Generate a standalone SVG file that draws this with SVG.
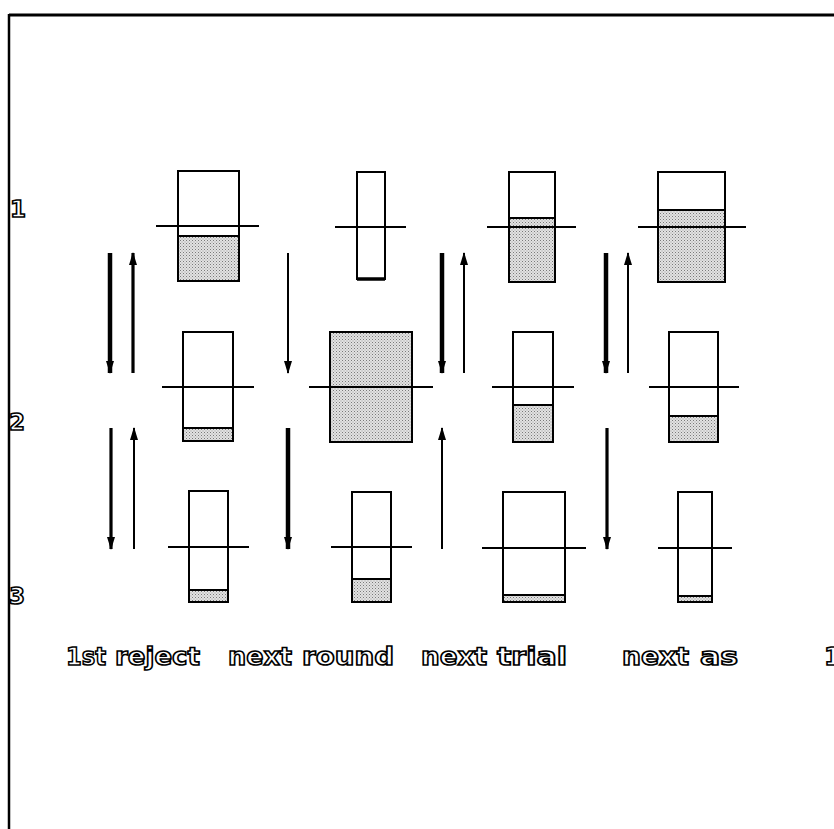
<svg xmlns="http://www.w3.org/2000/svg" width="834" height="829" viewBox="0 0 834 829">
<defs>
<pattern id="stip" width="3" height="3" patternUnits="userSpaceOnUse">
<rect width="3" height="3" fill="#e2e2e2"/>
<rect x="0" y="0" width="1" height="1" fill="#7a7a7a"/>
<rect x="1.5" y="1.5" width="1" height="1" fill="#9a9a9a"/>
</pattern>
<marker id="ah" viewBox="0 0 13 8" refX="12" refY="4" markerWidth="13" markerHeight="8" markerUnits="userSpaceOnUse" orient="auto">
<path d="M0,0 L13,4 L0,8 Z" fill="#000"/>
</marker>
</defs>
<style>
.box{fill:#fff;stroke:#000;stroke-width:2}
.fill{fill:url(#stip);stroke:#000;stroke-width:2}
.lvl{stroke:#000;stroke-width:2}
.thick{stroke:#000;stroke-width:4.5;fill:none}
.med{stroke:#000;stroke-width:3.2;fill:none}
.thin{stroke:#000;stroke-width:2;fill:none}
.lbl{font-family:"DejaVu Sans","Liberation Sans",sans-serif;font-weight:bold;fill:#fff;stroke:#000;stroke-width:1.6}
</style>
<rect width="834" height="829" fill="#fff"/>
<g id="frame">
<line x1="9" y1="15" x2="834" y2="15" stroke="#000" stroke-width="3"/>
<line x1="9" y1="14" x2="9" y2="829" stroke="#000" stroke-width="2.5"/>
</g>
<g id="row-labels" class="lbl" font-size="23">
<text x="10" y="217">1</text>
<text x="9" y="430">2</text>
<text x="9" y="604">3</text>
</g>
<g id="r1c1"><rect class="box" x="178" y="171" width="61" height="110"/><rect class="fill" x="178" y="236" width="61" height="45"/><line class="lvl" x1="156" y1="226" x2="259" y2="226"/></g>
<g id="r1c2"><rect class="box" x="357" y="172" width="28" height="107"/><line x1="357" y1="279" x2="385" y2="279" stroke="#000" stroke-width="3.5"/><line class="lvl" x1="335" y1="227" x2="406" y2="227"/></g>
<g id="r1c3"><rect class="box" x="509" y="172" width="46" height="110"/><rect class="fill" x="509" y="218" width="46" height="64"/><line class="lvl" x1="487" y1="227" x2="576" y2="227"/></g>
<g id="r1c4"><rect class="box" x="658" y="172" width="67" height="110"/><rect class="fill" x="658" y="210" width="67" height="72"/><line class="lvl" x1="638" y1="227" x2="746" y2="227"/></g>
<g id="r2c1"><rect class="box" x="183" y="332" width="50" height="109"/><rect class="fill" x="183" y="428" width="50" height="13"/><line class="lvl" x1="162" y1="387" x2="254" y2="387"/></g>
<g id="r2c2"><rect class="fill" x="330" y="332" width="82" height="110"/><line class="lvl" x1="309" y1="387" x2="433" y2="387"/></g>
<g id="r2c3"><rect class="box" x="513" y="332" width="40" height="110"/><rect class="fill" x="513" y="405" width="40" height="37"/><line class="lvl" x1="492" y1="387" x2="574" y2="387"/></g>
<g id="r2c4"><rect class="box" x="669" y="332" width="49" height="110"/><rect class="fill" x="669" y="416" width="49" height="26"/><line class="lvl" x1="649" y1="387" x2="739" y2="387"/></g>
<g id="r3c1"><rect class="box" x="189" y="491" width="39" height="111"/><rect class="fill" x="189" y="590" width="39" height="12"/><line class="lvl" x1="168" y1="547" x2="249" y2="547"/></g>
<g id="r3c2"><rect class="box" x="352" y="492" width="39" height="110"/><rect class="fill" x="352" y="579" width="39" height="23"/><line class="lvl" x1="331" y1="547" x2="412" y2="547"/></g>
<g id="r3c3"><rect class="box" x="503" y="492" width="62" height="110"/><rect class="fill" x="503" y="595" width="62" height="7"/><line class="lvl" x1="482" y1="548" x2="586" y2="548"/></g>
<g id="r3c4"><rect class="box" x="678" y="492" width="34" height="110"/><rect class="fill" x="678" y="596" width="34" height="6"/><line class="lvl" x1="658" y1="548" x2="732" y2="548"/></g>
<g id="connectors">
<line class="thick" x1="110" y1="253" x2="110" y2="373" marker-end="url(#ah)"/>
<line class="med" x1="133" y1="373" x2="133" y2="253" marker-end="url(#ah)"/>
<line class="thin" x1="288" y1="253" x2="288" y2="373" marker-end="url(#ah)"/>
<line class="thick" x1="442" y1="253" x2="442" y2="373" marker-end="url(#ah)"/>
<line class="thin" x1="464" y1="373" x2="464" y2="253" marker-end="url(#ah)"/>
<line class="thick" x1="606" y1="253" x2="606" y2="373" marker-end="url(#ah)"/>
<line class="thin" x1="628" y1="373" x2="628" y2="253" marker-end="url(#ah)"/>
<line class="med" x1="111" y1="428" x2="111" y2="549" marker-end="url(#ah)"/>
<line class="thin" x1="134" y1="549" x2="134" y2="428" marker-end="url(#ah)"/>
<line class="thick" x1="288" y1="428" x2="288" y2="549" marker-end="url(#ah)"/>
<line class="thin" x1="442" y1="549" x2="442" y2="428" marker-end="url(#ah)"/>
<line class="med" x1="607" y1="428" x2="607" y2="549" marker-end="url(#ah)"/>
</g>
<g id="caption" class="lbl" font-size="25">
<text x="66" y="665" textLength="40" lengthAdjust="spacingAndGlyphs">1st</text>
<text x="115" y="665" textLength="85" lengthAdjust="spacingAndGlyphs">reject</text>
<text x="228" y="665" textLength="64" lengthAdjust="spacingAndGlyphs">next</text>
<text x="302" y="665" textLength="92" lengthAdjust="spacingAndGlyphs">round</text>
<text x="421" y="665" textLength="66" lengthAdjust="spacingAndGlyphs">next</text>
<text x="497" y="665" textLength="70" lengthAdjust="spacingAndGlyphs">trial</text>
<text x="622" y="665" textLength="67" lengthAdjust="spacingAndGlyphs">next</text>
<text x="700" y="665" textLength="38" lengthAdjust="spacingAndGlyphs">as</text>
<text x="824" y="665">1</text>
</g>
</svg>
